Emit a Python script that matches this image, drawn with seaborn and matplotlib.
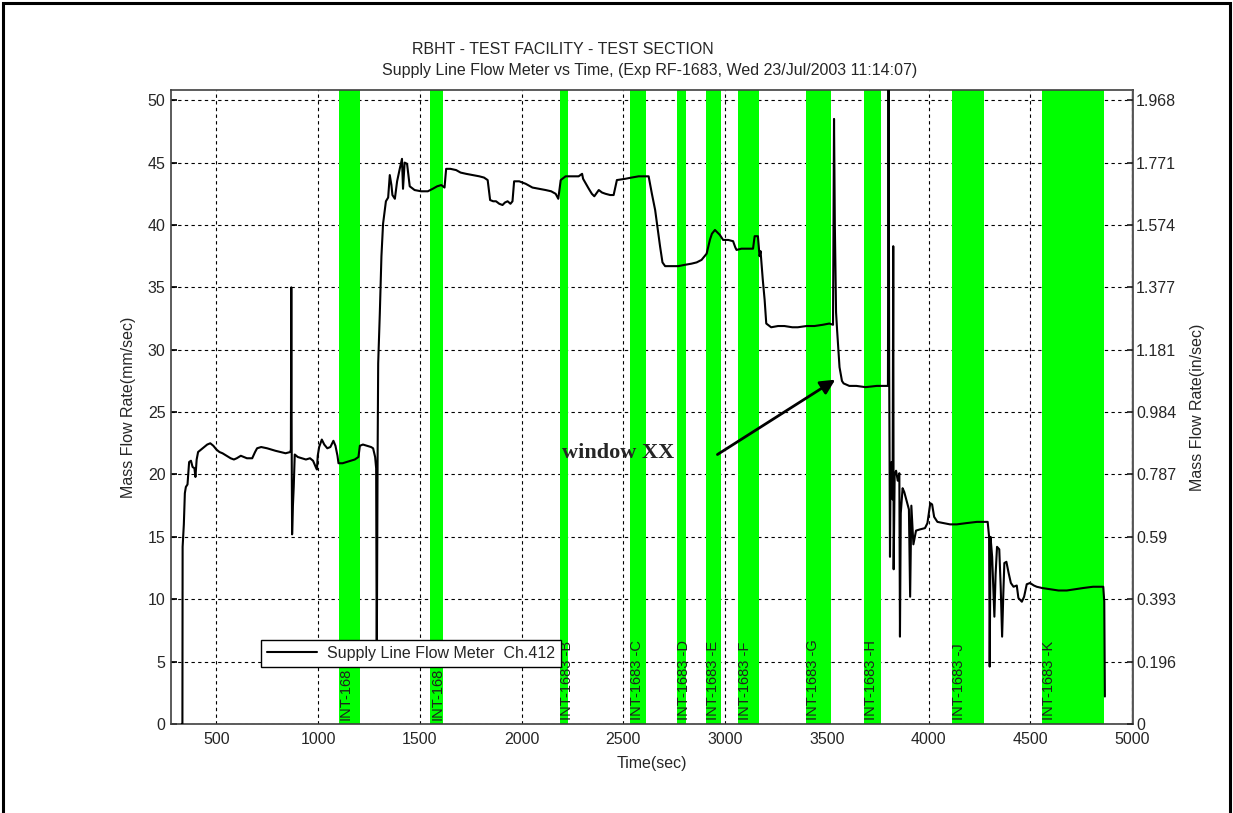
import matplotlib
matplotlib.use("Agg")
import matplotlib.pyplot as plt
import matplotlib.patches as mpatches
import numpy as np
import pandas as pd
import seaborn as sns

# ---------------- data ----------------
time_sec = [330, 333, 334, 340, 345, 350, 358, 366, 375, 383, 392, 397, 403, 410, 425, 440,
            455, 470, 485, 500, 515, 530, 550, 570, 586, 600, 620, 635, 650, 676, 690, 700,
            720, 749, 770, 790, 814, 840, 863, 866, 868, 870, 872, 876, 880, 885, 900, 920,
            940, 960, 975, 988, 994, 998, 1005, 1018, 1030, 1045, 1060, 1075, 1085, 1095,
            1100, 1120, 1140, 1160, 1180, 1198, 1205, 1220, 1240, 1260, 1270, 1280, 1285,
            1288, 1292, 1295, 1303, 1311, 1319, 1333, 1344, 1352, 1360, 1365, 1377, 1388,
            1401, 1412, 1417, 1425, 1437, 1450, 1474, 1506, 1539, 1563, 1585, 1605, 1621,
            1629, 1650, 1678, 1700, 1727, 1760, 1792, 1815, 1833, 1845, 1860, 1874, 1890,
            1906, 1918, 1931, 1945, 1955, 1963, 1988, 2020, 2053, 2085, 2118, 2145, 2167,
            2180, 2192, 2216, 2250, 2280, 2297, 2302, 2330, 2345, 2357, 2379, 2395, 2412,
            2435, 2452, 2468, 2509, 2540, 2575, 2600, 2624, 2640, 2656, 2669, 2680, 2692,
            2705, 2740, 2770, 2800, 2835, 2860, 2884, 2909, 2925, 2935, 2950, 2962, 2974,
            2990, 3015, 3039, 3050, 3056, 3080, 3104, 3137, 3145, 3161, 3169, 3174, 3185,
            3194, 3202, 3226, 3260, 3291, 3330, 3357, 3400, 3439, 3480, 3512, 3530, 3535,
            3539, 3545, 3550, 3562, 3574, 3582, 3610, 3645, 3690, 3745, 3780, 3800, 3803,
            3806, 3810, 3813, 3818, 3823, 3826, 3828, 3833, 3840, 3848, 3856, 3859, 3863,
            3872, 3880, 3890, 3903, 3909, 3915, 3925, 3938, 3958, 3982, 3994, 4008, 4017,
            4027, 4043, 4073, 4105, 4138, 4185, 4237, 4290, 4297, 4300, 4304, 4312, 4323,
            4329, 4336, 4347, 4354, 4361, 4367, 4372, 4382, 4393, 4404, 4417, 4433, 4441,
            4458, 4469, 4482, 4498, 4517, 4531, 4557, 4596, 4638, 4679, 4718, 4760, 4808,
            4858, 4863, 4866]
flow_mm = [0, 0, 14.2, 16.0, 18.5, 19.0, 19.2, 21.0, 21.1, 20.6, 20.5, 19.8, 21.2, 21.8, 22.0, 22.2,
           22.4, 22.5, 22.3, 22.0, 21.8, 21.7, 21.5, 21.3, 21.2, 21.3, 21.5, 21.4, 21.3, 21.3, 21.8, 22.1,
           22.2, 22.1, 22.0, 21.9, 21.8, 21.7, 21.8, 22.0, 35.0, 22.0, 15.2, 17.5, 19.0, 21.6, 21.4, 21.3,
           21.2, 21.3, 21.1, 20.6, 20.4, 21.5, 22.2, 22.8, 22.4, 22.1, 22.2, 22.7, 22.3, 21.5,
           20.9, 20.9, 21.0, 21.1, 21.2, 21.4, 22.3, 22.4, 22.3, 22.2, 22.1, 21.4, 20.5,
           4.6, 20.9, 28.9, 32.9, 37.5, 40.1, 41.9, 42.2, 44.0, 43.2, 42.4, 42.1, 43.5,
           44.5, 45.3, 42.9, 45.0, 44.9, 43.1, 42.8, 42.7, 42.7, 42.9, 43.1, 43.2, 43.0,
           44.5, 44.5, 44.4, 44.2, 44.1, 44.0, 43.9, 43.8, 43.6, 42.0, 41.9, 41.9, 41.7,
           41.6, 41.8, 41.9, 41.7, 41.9, 43.5, 43.5, 43.3, 43.0, 42.9, 42.8, 42.7, 42.5,
           42.1, 43.6, 43.9, 43.9, 43.9, 44.1, 43.7, 42.9, 42.5, 42.3, 42.8, 42.6, 42.5,
           42.4, 42.4, 43.6, 43.7, 43.8, 43.9, 43.9, 43.9, 42.5, 41.2, 39.6, 38.3, 37.0,
           36.7, 36.7, 36.7, 36.8, 36.9, 37.0, 37.2, 37.7, 38.8, 39.3, 39.6, 39.4, 39.2,
           38.8, 38.8, 38.7, 38.2, 38.0, 38.1, 38.1, 38.1, 39.1, 39.1, 37.5, 37.9, 35.6,
           34.0, 32.1, 31.8, 31.9, 31.9, 31.8, 31.8, 31.9, 31.9, 32.0, 32.1, 32.0, 48.5,
           40.0, 33.0, 31.6, 28.6, 27.5, 27.3, 27.1, 27.1, 27.0, 27.1, 27.1, 27.1, 55.0,
           28.6, 13.4, 20.6, 21.0, 18.0, 38.3, 12.4, 20.0, 20.3, 19.5, 20.1, 7.0, 16.9,
           18.9, 18.6, 18.0, 17.2, 10.2, 17.5, 14.4, 15.5, 15.6, 15.7, 16.1, 17.7, 17.6,
           16.6, 16.2, 16.1, 16.0, 16.0, 16.1, 16.2, 16.2, 15.0, 4.6, 15.0, 13.4, 8.6,
           12.0, 14.2, 14.0, 11.0, 7.0, 10.5, 12.9, 13.0, 12.1, 11.3, 11.0, 11.1, 10.1,
           9.8, 10.2, 11.2, 11.3, 11.1, 11.0, 10.9, 10.8, 10.7, 10.7, 10.8, 10.9, 11.0,
           11.0, 9.8, 2.2]

band_start = [1103, 1551, 2190, 2534, 2765, 2907, 3065, 3399, 3684, 4117, 4559]
band_end = [1206, 1614, 2229, 2612, 2809, 2981, 3168, 3522, 3768, 4274, 4864]
band_labels = ["INT-168", "INT-168", "INT-1683 -B", "INT-1683 -C", "INT-1683 -D",
               "INT-1683 -E", "INT-1683 -F", "INT-1683 -G", "INT-1683 -H", "INT-1683 -J",
               "INT-1683 -K"]

x_ticks = [500, 1000, 1500, 2000, 2500, 3000, 3500, 4000, 4500, 5000]
y_ticks = [0, 5, 10, 15, 20, 25, 30, 35, 40, 45, 50]
right_tick_labels = ["0", "0.196", "0.393", "0.59", "0.787", "0.984", "1.181", "1.377",
                     "1.574", "1.771", "1.968"]

title_line1 = "RBHT - TEST FACILITY - TEST SECTION"
title_line2 = "Supply Line Flow Meter vs Time, (Exp RF-1683, Wed 23/Jul/2003 11:14:07)"
series_name = "Supply Line Flow Meter  Ch.412"

# ---------------- drawing ----------------
sns.set_theme(style="white")
plt.rcParams["font.family"] = ["Liberation Sans", "DejaVu Sans"]
plt.rcParams["xtick.direction"] = "in"
plt.rcParams["ytick.direction"] = "in"

fig = plt.figure(figsize=(12.33, 8.13), dpi=100)
ax = fig.add_axes([0.1387, 0.1095, 0.7805, 0.7795])

FS = 11.5
GREEN = "#00ff00"

for s, e, lab in zip(band_start, band_end, band_labels):
    ax.axvspan(s, e, color=GREEN, lw=0, zorder=1)
    ax.text(s, 0.35, lab, rotation=90, ha="left", va="bottom", fontsize=10.5,
            color="#202020", zorder=2)

df = pd.DataFrame({"Time(sec)": time_sec, "flow": flow_mm})
sns.lineplot(data=df, x="Time(sec)", y="flow", ax=ax, color="black", lw=1.5,
             sort=False, label=series_name, zorder=3, estimator=None)

ax.set_xlim(277, 5006)
ax.set_ylim(0, 50.8)
ax.set_xticks(x_ticks)
ax.set_yticks(y_ticks)
ax.grid(True, color="black", linestyle=(0, (3, 3)), lw=0.8)
for gl in ax.get_xgridlines() + ax.get_ygridlines():
    gl.set_zorder(2.5)
ax.axvline(5000, color="#555555", lw=1.0, zorder=4)
ax.tick_params(axis="both", labelsize=FS, length=4, color="black")
ax.tick_params(axis="x", pad=6)
ax.tick_params(axis="y", pad=4)
for sp in ax.spines.values():
    sp.set_color("#404040")
    sp.set_linewidth(1.2)
ax.set_xlabel("Time(sec)", fontsize=FS, labelpad=6)
ax.set_ylabel("Mass Flow Rate(mm/sec)", fontsize=FS, labelpad=8)

ax2 = ax.twinx()
ax2.set_ylim(ax.get_ylim())
ax2.set_yticks(y_ticks)
ax2.set_yticklabels(right_tick_labels)
ax2.tick_params(axis="y", labelsize=FS, length=4, direction="in", pad=2)
ax2.set_ylabel("Mass Flow Rate(in/sec)", fontsize=FS, rotation=90, labelpad=10)
for sp in ax2.spines.values():
    sp.set_visible(False)

leg = ax.legend(loc="upper left", bbox_to_anchor=(0.0936, 0.133), borderaxespad=0,
                fancybox=False, edgecolor="black", framealpha=1, fontsize=FS,
                handlelength=3.1, borderpad=0.4, handletextpad=0.6)
leg.set_zorder(10)
leg.get_frame().set_linewidth(1.0)

ax.annotate("", xy=(3541, 27.6), xytext=(2962, 21.6),
            arrowprops=dict(arrowstyle="-|>", color="black", lw=2, mutation_scale=22,
                            shrinkA=0, shrinkB=0), zorder=6)
ax.text(2198, 21.7, "window XX", fontsize=16, fontweight="bold",
        family=["Liberation Serif", "DejaVu Serif"], ha="left", va="center", zorder=6)

fig.text(563 / 1233, 1 - 50 / 813, title_line1, ha="center", va="center", fontsize=FS)
fig.text(650 / 1233, 1 - 70 / 813, title_line2, ha="center", va="center", fontsize=FS)

frame = mpatches.Rectangle((0.0028, -0.05), 0.9944, 1.0465, transform=fig.transFigure,
                           fill=False, edgecolor="black", lw=2.2)
fig.patches.append(frame)

fig.savefig("out.png", dpi=100, facecolor="white")
